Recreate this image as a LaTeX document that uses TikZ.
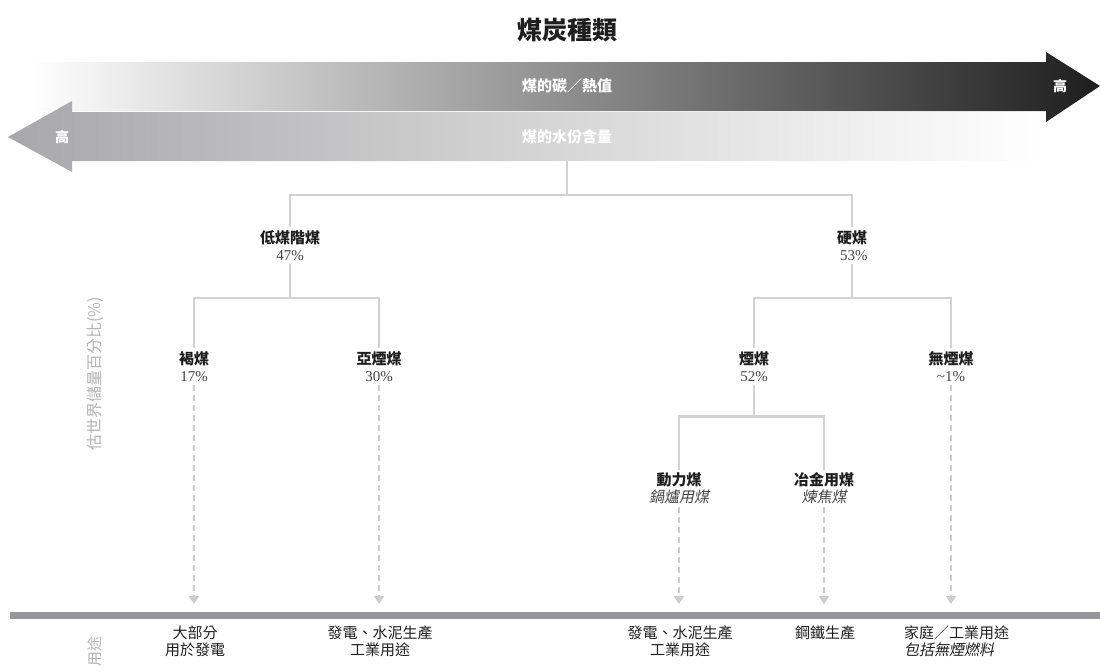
\documentclass[tikz,border=0pt]{standalone}
\usepackage{fontspec}
\setmainfont{Noto Sans CJK TC}[AutoFakeSlant=0.2]
\newfontfamily\numfont{Liberation Serif}
\usetikzlibrary{positioning,arrows.meta}

\definecolor{labelcol}{HTML}{1E1E1E}
\definecolor{pctcol}{HTML}{444444}
\definecolor{branchcol}{HTML}{D2D2D2}
\definecolor{dashcol}{HTML}{CDCDCD}
\definecolor{barcol}{HTML}{97979A}
\definecolor{arrowdark}{HTML}{1E1E1E}
\definecolor{arrowgray}{HTML}{A8A8AA}
\definecolor{axiscol}{HTML}{B4B4B4}

\begin{document}
\begin{tikzpicture}[
% Change style
	x=1pt, y=-1pt,
	node distance=80pt,
	on grid,
	coal/.style={align=center, font=\fontsize{15}{17}\selectfont, text=labelcol, inner sep=3pt},
	usetext/.style={align=center, font=\fontsize{15}{17}\selectfont, text=labelcol, inner sep=2pt},
	axislabel/.style={rotate=90, font=\fontsize{16}{18}\selectfont, text=axiscol},
	arrowtext/.style={font=\bfseries\fontsize{15}{17}\selectfont, text=white},
	branch/.style={draw=branchcol, line width=2.8pt},
	usearrow/.style={draw=dashcol, line width=2.5pt, dash pattern=on 6pt off 4pt,
		-{Triangle[width=10pt,length=8pt,fill=dashcol]}, shorten >=8pt}]

\useasboundingbox (0,0) rectangle (1100,670);

% Title
\node[font=\bfseries\fontsize{25}{28}\selectfont, text=labelcol] (title) at (567,30) {煤炭種類};

% Carbon arrow
\shade[left color=white, right color=arrowdark]
	(30,62) -- (1046,62) -- (1046,52) -- (1100,86) -- (1046,122) -- (1046,111) -- (30,111) -- cycle;
\node[arrowtext] (carbon) at (567,86) {煤的碳／熱值};
\node[arrowtext, font=\bfseries\fontsize{14}{16}\selectfont] (carbonhigh) at (1060,86) {高};

% Moisture arrow
\shade[left color=arrowgray, right color=white]
	(1046,112) -- (72,112) -- (72,101) -- (8,137) -- (72,172) -- (72,161) -- (1046,161) -- cycle;
\node[arrowtext] (moist) at (567,137) {煤的水份含量};
\node[arrowtext, font=\bfseries\fontsize{14}{16}\selectfont] (moisthigh) at (62,137) {高};

\coordinate (split) at (567,161);

% Axis labels
\node[axislabel] (reserve) at (95,374) {估世界儲量百分比(\%)};
\node[axislabel, font=\fontsize{15}{17}\selectfont] (usage) at (95,651) {用途};

% Low rank
\node[coal] (low) at (290,245.5)
	{\textbf{低煤階煤}\\\textcolor{pctcol}{\numfont 47\%}};

% Hard coal
\node[coal] (hard) at (852,245.5)
	{\textbf{硬煤}\\\textcolor{pctcol}{\numfont\ 53\%}};

% Lignite
\node[coal, below left=121pt and 96pt of low] (lignite)
	{\textbf{褐煤}\\\textcolor{pctcol}{\numfont 17\%}};

% Sub-bituminous
\node[coal, below right=121pt and 89pt of low] (subbit)
	{\textbf{亞煙煤}\\\textcolor{pctcol}{\numfont 30\%}};

% Bituminous
\node[coal, below left=121pt and 98pt of hard] (bitum)
	{\textbf{煙煤}\\\textcolor{pctcol}{\numfont 52\%}};

% Anthracite
\node[coal, below right=121pt and 99pt of hard] (anthr)
	{\textbf{無煙煤}\\\textcolor{pctcol}{\numfont\textasciitilde 1\%}};

% Steam coal
\node[coal, below left=122pt and 75pt of bitum] (steam)
	{\textbf{動力煤}\\\textcolor{pctcol}{\itshape 鍋爐用煤}};

% Coking coal
\node[coal, below right=122pt and 70pt of bitum] (coking)
	{\textbf{冶金用煤}\\\textcolor{pctcol}{\itshape 煉焦煤}};

% Forks
\coordinate (rootfork) at (567,195);
\coordinate[below=52.5pt of low] (lowfork);
\coordinate[below=52.5pt of hard] (hardfork);
\coordinate[below=50pt of bitum] (bitumfork);

% Connections
\draw[branch] (split) -- (rootfork) -| (low);
\draw[branch] (rootfork) -| (hard);
\draw[branch] (low) -- (lowfork) -| (lignite);
\draw[branch] (lowfork) -| (subbit);
\draw[branch] (hard) -- (hardfork) -| (bitum);
\draw[branch] (hardfork) -| (anthr);
\draw[branch] (bitum) -- (bitumfork) -| (steam);
\draw[branch] (bitumfork) -| (coking);

% Usage bar
\node[fill=barcol, minimum width=1090pt, minimum height=7pt, inner sep=0pt,
	anchor=north west] (bar) at (10,612) {};

% Uses
\draw[usearrow] (lignite) -- (lignite |- bar.north);
\draw[usearrow] (subbit) -- (subbit |- bar.north);
\draw[usearrow] (steam) -- (steam |- bar.north);
\draw[usearrow] (coking) -- (coking |- bar.north);
\draw[usearrow] (anthr) -- (anthr |- bar.north);

\node[usetext] (uselignite) at (195,641) {大部分\\用於發電};
\node[usetext] (usesubbit) at (380,641) {發電、水泥生產\\工業用途};
\node[usetext] (usesteam) at (680,641) {發電、水泥生產\\工業用途};
\node[usetext] (usecoking) at (825,633) {鋼鐵生產};
\node[usetext, align=left, anchor=west] (useanthr) at (902,641) {家庭／工業用途\\{\itshape 包括無煙燃料}};

\end{tikzpicture}
\end{document}
